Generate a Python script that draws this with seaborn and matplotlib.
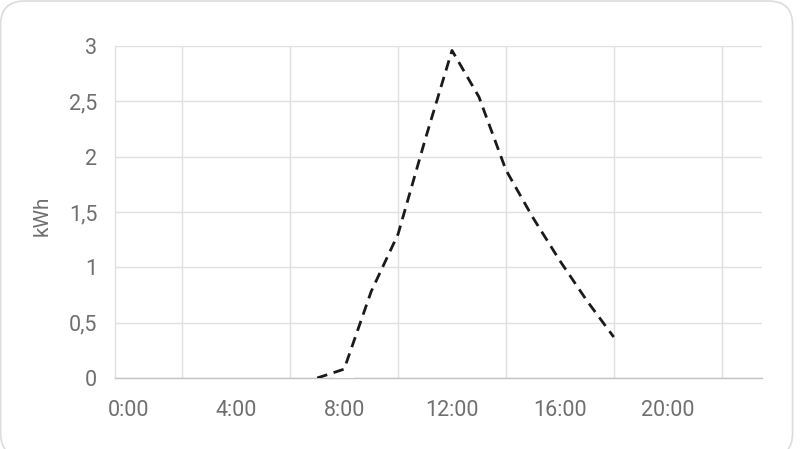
import numpy as np
import pandas as pd
import seaborn as sns
import matplotlib.pyplot as plt
from matplotlib.patches import FancyBboxPatch

sns.set_theme(style="white")
plt.rcParams['font.family'] = ['Roboto', 'DejaVu Sans']

# forecast (dashed line), hourly kWh
hours = [7, 8, 9, 10, 11, 12, 13, 14, 15, 16, 17, 18]
forecast = [0, 0.08, 0.78, 1.3, 2.15, 2.96, 2.54, 1.88, 1.45, 1.06, 0.70, 0.37]
# actual production (tiny bar at 8:00)
bar_hours = [8]
bar_values = [0.012]

x_ticks = [0, 4, 8, 12, 16, 20]
x_labels = ['0:00', '4:00', '8:00', '12:00', '16:00', '20:00']
y_ticks = [0, 0.5, 1, 1.5, 2, 2.5, 3]
y_labels = ['0', '0,5', '1', '1,5', '2', '2,5', '3']

grid_c = '#e0e0e0'
text_c = '#6f6f6f'

fig = plt.figure(figsize=(8, 4.49), dpi=100)
# card border (rounded), bottom edge runs just past the image
card = FancyBboxPatch((0.6 / 800, -8 / 449), 792 / 800, 456 / 449,
                      boxstyle="round,pad=0,rounding_size=0.03",
                      transform=fig.transFigure, facecolor='none',
                      edgecolor='#dcdcdc', linewidth=1.2,
                      mutation_aspect=800 / 449, zorder=-1)
fig.patches.append(card)

ax = fig.add_axes([115 / 800, 1 - 378 / 449, 647 / 800, 332 / 449])
ax.set_facecolor('none')

df = pd.DataFrame({'hour': hours, 'kwh': forecast})
ax.bar(bar_hours, bar_values, width=0.67, color='#ffb46e', zorder=3)
sns.lineplot(data=df, x='hour', y='kwh', ax=ax, color='#1a1a1a',
             linewidth=2.0, linestyle=(0, (3.8, 2.4)), zorder=4)

ax.set_xlim(-0.5, 23.5)
ax.set_ylim(0, 3)
ax.set_xticks(x_ticks)
ax.set_xticklabels(x_labels)
ax.set_xticks([2, 6, 10, 14, 18, 22], minor=True)
ax.set_yticks(y_ticks)
ax.set_yticklabels(y_labels)

ax.tick_params(axis='x', which='major', length=0, pad=16, labelsize=15.5, labelcolor=text_c)
ax.tick_params(axis='x', which='minor', length=10, width=1, color=grid_c)
ax.tick_params(axis='y', which='major', length=9.4, width=1, color=grid_c,
               pad=3.5, labelsize=15.5, labelcolor=text_c)

ax.grid(True, axis='y', which='major', color=grid_c, linewidth=1)
ax.grid(True, axis='x', which='minor', color=grid_c, linewidth=1)
ax.set_axisbelow(True)

for s in ['top', 'right']:
    ax.spines[s].set_visible(False)
ax.spines['left'].set_color(grid_c)
ax.spines['left'].set_linewidth(1)
ax.spines['bottom'].set_color('#c4c4c4')
ax.spines['bottom'].set_linewidth(1)

ax.set_xlabel('')
ax.set_ylabel('kWh', fontsize=15, color=text_c, va='center')
ax.yaxis.set_label_coords(-0.113, 0.49)

fig.savefig('out.png', dpi=100)
